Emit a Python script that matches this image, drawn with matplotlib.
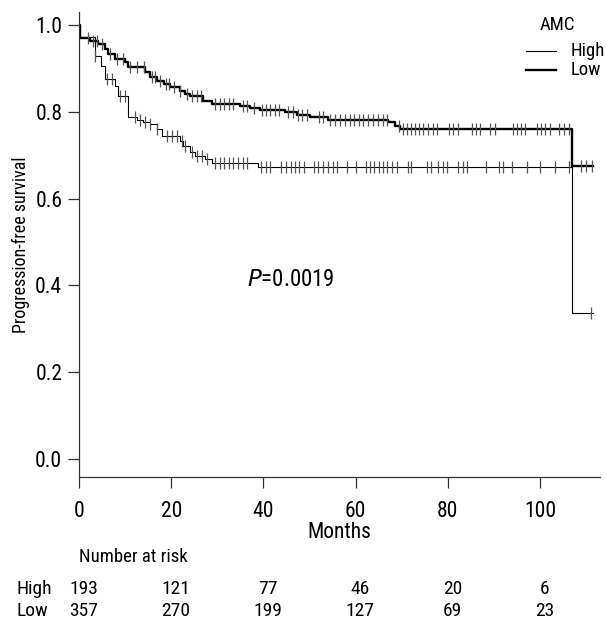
import matplotlib.pyplot as plt
import numpy as np
from matplotlib.transforms import blended_transform_factory
from matplotlib.lines import Line2D

plt.rcParams['font.family'] = ['Roboto Condensed', 'DejaVu Sans']

# Kaplan-Meier steps: time (months) where the level changes, level after it
high_t = [0, 0.2, 3.5, 4.8, 5.6, 7.8, 8.5, 10.6, 12.6, 13.9, 15.4, 16.9, 18.0, 21.9, 22.6,
          24.1, 25.2, 27.3, 28.9, 38.8, 107.0]
high_s = [1.0, 0.972, 0.929, 0.906, 0.875, 0.860, 0.837, 0.788, 0.781, 0.776, 0.771, 0.760,
          0.744, 0.732, 0.721, 0.707, 0.697, 0.691, 0.681, 0.672, 0.335]
high_end = 111.5
high_cens = [3.5, 6.1, 7.2, 8.9, 10.0, 12.1, 13.2, 14.3, 15.4, 16.9, 19.1, 20.2, 21.3, 22.3,
             23.0, 24.5, 25.6, 26.7, 27.8, 29.5, 30.5, 31.5, 32.5, 33.5, 34.5, 35.5, 36.4,
             39.5, 40.5, 41.4, 43.9, 45.0, 46.0, 46.8, 47.8, 48.7, 51.0, 51.9, 53.0, 54.0,
             55.0, 56.0, 58.2, 60.1, 62.3, 63.1, 64.0, 65.0, 65.9, 66.9, 67.9, 68.9, 71.3,
             72.1, 75.4, 76.3, 77.9, 78.9, 79.8, 82.3, 83.2, 84.1, 88.2, 91.2, 91.9, 94.0,
             97.1, 100.0, 103.3, 106.2, 111.0]

low_t = [0, 0.2, 2.4, 4.1, 5.6, 6.3, 7.8, 10.0, 10.6, 14.3, 15.4, 16.9, 18.4, 19.7, 21.9,
         23.0, 24.1, 26.9, 28.9, 34.9, 37.1, 39.3, 44.7, 47.3, 50.1, 54.0, 67.0, 68.5, 69.6,
         107.0]
low_s = [1.0, 0.971, 0.964, 0.956, 0.945, 0.933, 0.921, 0.914, 0.903, 0.891, 0.880, 0.871,
         0.864, 0.857, 0.848, 0.841, 0.836, 0.824, 0.818, 0.813, 0.808, 0.804, 0.799, 0.792,
         0.788, 0.781, 0.776, 0.767, 0.760, 0.674]
low_end = 111.5
low_cens = [2.0, 3.0, 4.0, 5.0, 6.8, 8.2, 9.5, 11.0, 12.5, 14.0, 15.8, 16.5, 17.5, 18.8,
            19.5, 20.5, 22.0, 23.5, 24.5, 25.5, 26.5, 29.5, 30.5, 31.5, 32.5, 33.5, 35.5,
            36.5, 38.0, 39.6, 40.5, 41.4, 42.5, 43.4, 45.4, 46.5, 47.4, 48.3, 49.4, 52.1,
            53.0, 54.4, 55.6, 56.7, 57.7, 58.8, 59.7, 60.7, 61.7, 62.7, 63.8, 64.9, 65.9,
            66.9, 69.3, 70.2, 71.1, 72.0, 72.9, 73.8, 74.7, 75.8, 76.7, 77.6, 80.3, 81.2,
            82.2, 85.2, 86.1, 87.0, 89.2, 90.3, 94.2, 94.9, 95.9, 96.8, 99.3, 100.2, 101.1,
            102.1, 104.1, 105.1, 106.2, 108.9, 110.0, 111.2]

risk_times = [0, 20, 40, 60, 80, 100]
risk_high = [193, 121, 77, 46, 20, 6]
risk_low = [357, 270, 199, 127, 69, 23]


def level_at(times, levels, t):
    i = np.searchsorted(times, t, side='right') - 1
    return levels[i]


fig = plt.figure(figsize=(6.06, 6.21), dpi=100)
ax = fig.add_axes([79 / 606, 1 - 477 / 621, 521 / 606, 465 / 621])

# curves
ax.step(high_t + [high_end], high_s + [high_s[-1]], where='post', color='black', lw=0.8)
ax.step(low_t + [low_end], low_s + [low_s[-1]], where='post', color='black', lw=1.7)

# censor marks
ax.plot(high_cens, [level_at(high_t, high_s, c) for c in high_cens], ls='none',
        marker='|', ms=8, mew=0.9, color='#555555')
ax.plot(low_cens, [level_at(low_t, low_s, c) for c in low_cens], ls='none',
        marker='|', ms=8, mew=0.9, color='#555555')

ax.set_xlim(0, 113)
ax.set_ylim(-0.042, 1.03)
ax.set_xticks([0, 20, 40, 60, 80, 100])
ax.set_yticks([0.0, 0.2, 0.4, 0.6, 0.8, 1.0])
ax.set_yticklabels(['0.0', '0.2', '0.4', '0.6', '0.8', '1.0'])
for s in ['top', 'right']:
    ax.spines[s].set_visible(False)
for s in ['left', 'bottom']:
    ax.spines[s].set_color('#333333')
    ax.spines[s].set_linewidth(0.9)
ax.tick_params(direction='out', length=8, width=0.9, color='#333333', labelsize=15.5)
ax.tick_params(axis='y', pad=4)
ax.tick_params(axis='x', pad=9)
ax.set_xlabel('Months', fontsize=15.5, labelpad=0)
ax.set_ylabel('Progression-free survival', fontsize=13, labelpad=4)

ax.text(46, 0.413, r'$\it{P}$' + '=0.0019', fontsize=16.5, ha='center', va='center')

# legend, placed by hand
fig.text(557 / 606, 1 - 25 / 621, 'AMC', fontsize=13.5, ha='center', va='center')
for y, lw, lab in [(51, 0.8, 'High'), (70, 1.7, 'Low')]:
    fig.add_artist(Line2D([526 / 606, 556 / 606], [1 - y / 621] * 2, color='black', lw=lw,
                          transform=fig.transFigure))
    fig.text(571 / 606, 1 - y / 621, lab, fontsize=13.5, ha='left', va='center')

# number at risk table
tr = blended_transform_factory(ax.transData, fig.transFigure)
fig.text(79 / 606, 1 - 557 / 621, 'Number at risk', fontsize=13.5, ha='left', va='center')
fig.text(16 / 606, 1 - 589 / 621, 'High', fontsize=14, ha='left', va='center')
fig.text(16 / 606, 1 - 611 / 621, 'Low', fontsize=14, ha='left', va='center')
for t, h, l in zip(risk_times, risk_high, risk_low):
    ax.text(t + 1, 1 - 589 / 621, str(h), transform=tr, fontsize=14, ha='center', va='center')
    ax.text(t + 1, 1 - 611 / 621, str(l), transform=tr, fontsize=14, ha='center', va='center')

fig.savefig('out.png', dpi=100)
